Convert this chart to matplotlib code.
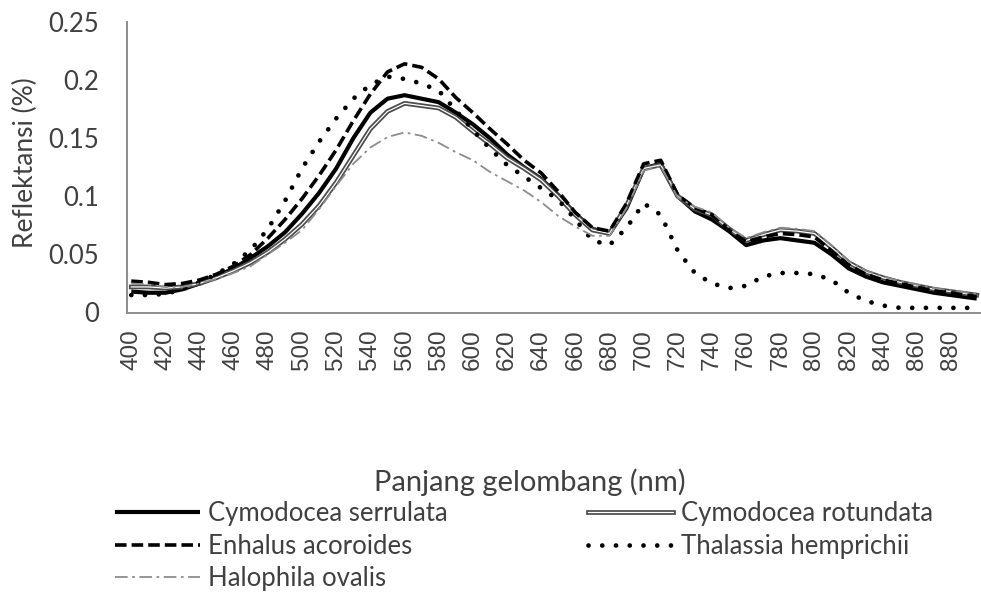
import numpy as np
import matplotlib
matplotlib.use("Agg")
import matplotlib.pyplot as plt
from matplotlib.legend_handler import HandlerTuple

# wavelength (nm) and reflectance per species
wavelength = list(range(400, 900, 10)) + [895]

serrulata = [0.018, 0.017, 0.017, 0.020, 0.025, 0.031, 0.038, 0.047, 0.057, 0.069,
             0.085, 0.103, 0.124, 0.150, 0.172, 0.184, 0.187, 0.184, 0.181, 0.172,
             0.162, 0.150, 0.136, 0.125, 0.115, 0.101, 0.085, 0.072, 0.068, 0.090,
             0.124, 0.128, 0.100, 0.087, 0.080, 0.070, 0.058, 0.062, 0.064, 0.062,
             0.060, 0.050, 0.038, 0.031, 0.026, 0.023, 0.020, 0.017, 0.015, 0.013,
             0.012]
rotundata = [0.022, 0.022, 0.021, 0.022, 0.025, 0.030, 0.036, 0.043, 0.052, 0.063,
             0.076, 0.092, 0.112, 0.135, 0.158, 0.173, 0.180, 0.178, 0.176, 0.168,
             0.156, 0.145, 0.133, 0.124, 0.114, 0.100, 0.084, 0.071, 0.068, 0.092,
             0.124, 0.127, 0.100, 0.089, 0.084, 0.072, 0.062, 0.067, 0.071, 0.070,
             0.068, 0.056, 0.043, 0.035, 0.030, 0.026, 0.023, 0.020, 0.018, 0.016,
             0.015]
enhalus = [0.027, 0.026, 0.024, 0.025, 0.028, 0.033, 0.040, 0.050, 0.064, 0.080,
           0.098, 0.118, 0.140, 0.165, 0.188, 0.207, 0.214, 0.211, 0.201, 0.185,
           0.172, 0.158, 0.145, 0.131, 0.120, 0.104, 0.086, 0.073, 0.070, 0.094,
           0.128, 0.131, 0.101, 0.090, 0.084, 0.071, 0.061, 0.065, 0.068, 0.067,
           0.065, 0.053, 0.041, 0.033, 0.028, 0.025, 0.022, 0.019, 0.017, 0.015,
           0.014]
thalassia = [0.015, 0.015, 0.016, 0.020, 0.026, 0.033, 0.042, 0.054, 0.072, 0.096,
             0.124, 0.147, 0.167, 0.184, 0.196, 0.203, 0.201, 0.197, 0.191, 0.174,
             0.157, 0.141, 0.127, 0.117, 0.107, 0.097, 0.080, 0.062, 0.058, 0.073,
             0.094, 0.084, 0.053, 0.034, 0.025, 0.021, 0.023, 0.031, 0.034, 0.034,
             0.033, 0.028, 0.017, 0.010, 0.006, 0.004, 0.004, 0.004, 0.004, 0.004,
             0.004]
halophila = [0.025, 0.024, 0.022, 0.022, 0.025, 0.029, 0.034, 0.040, 0.050, 0.060,
             0.071, 0.089, 0.109, 0.128, 0.142, 0.151, 0.155, 0.152, 0.146, 0.138,
             0.131, 0.121, 0.113, 0.105, 0.095, 0.083, 0.074, 0.066, 0.066, 0.090,
             0.122, 0.126, 0.099, 0.091, 0.086, 0.073, 0.064, 0.069, 0.073, 0.072,
             0.070, 0.058, 0.044, 0.036, 0.031, 0.027, 0.024, 0.021, 0.019, 0.017,
             0.016]

x_ticks = list(range(400, 900, 20))
y_ticks = [0, 0.05, 0.1, 0.15, 0.2, 0.25]
y_ticklabels = ["0", "0.05", "0.1", "0.15", "0.2", "0.25"]

TEXT = "#404040"
FONT = "Lato"

fig = plt.figure(figsize=(9.81, 5.92), dpi=100)
ax = fig.add_axes([127 / 981, 1 - 312.5 / 592, 854 / 981, 290.5 / 592])

wl = np.array(wavelength)
l_cs, = ax.plot(wl, serrulata, color="black", lw=3.0, solid_capstyle="butt")
l_cr_out, = ax.plot(wl, rotundata, color="#4a4a4a", lw=3.4)
l_cr_in, = ax.plot(wl, rotundata, color="white", lw=0.9)
l_ea, = ax.plot(wl, enhalus, color="black", lw=2.6, linestyle=(0, (3.2, 1.4)))
l_th, = ax.plot(wl, thalassia, color="black", lw=3.4, linestyle=(0, (0.01, 2.9)),
                dash_capstyle="round")
l_ho, = ax.plot(wl, halophila, color="#8c8c8c", lw=1.3, linestyle=(0, (7, 2.5, 1.5, 2.5)))

ax.set_xlim(397.5, 897.5)
ax.set_ylim(0, 0.25)
ax.set_xticks(x_ticks)
ax.set_xticklabels([str(t) for t in x_ticks], rotation=90, fontsize=17.5,
                   family="Liberation Sans", color=TEXT, va="top")
ax.set_yticks(y_ticks)
ax.set_yticklabels(y_ticklabels, fontsize=18.5, family=FONT, color=TEXT)
ax.tick_params(axis="x", length=0, pad=12)
ax.tick_params(axis="y", length=0, pad=20)

for side in ["top", "right"]:
    ax.spines[side].set_visible(False)
for side in ["left", "bottom"]:
    ax.spines[side].set_color("#8c8c8c")
    ax.spines[side].set_linewidth(1.4)

fig.text(25 / 981, 1 - 163 / 592, "Reflektansi (%)", rotation=90, ha="center",
         va="center", fontsize=19, family=FONT, color=TEXT)
fig.text(530 / 981, 1 - 482 / 592, "Panjang gelombang (nm)", ha="center",
         va="center", fontsize=21, family=FONT, color=TEXT)

handles = [l_cs, l_ea, l_ho, (l_cr_out, l_cr_in), l_th]
labels = ["Cymodocea serrulata", "Enhalus acoroides", "Halophila ovalis",
          "Cymodocea rotundata", "Thalassia hemprichii"]
fig.legend(handles, labels, loc="upper left", bbox_to_anchor=(115 / 981, 1 - 501 / 592),
           ncol=2, frameon=False, borderpad=0, borderaxespad=0,
           handlelength=3.3, handletextpad=0.3, columnspacing=5.5, labelspacing=0.3,
           prop={"family": FONT, "size": 18.5}, labelcolor=TEXT,
           handler_map={tuple: HandlerTuple(ndivide=1)})

fig.savefig("out.png", dpi=100)
